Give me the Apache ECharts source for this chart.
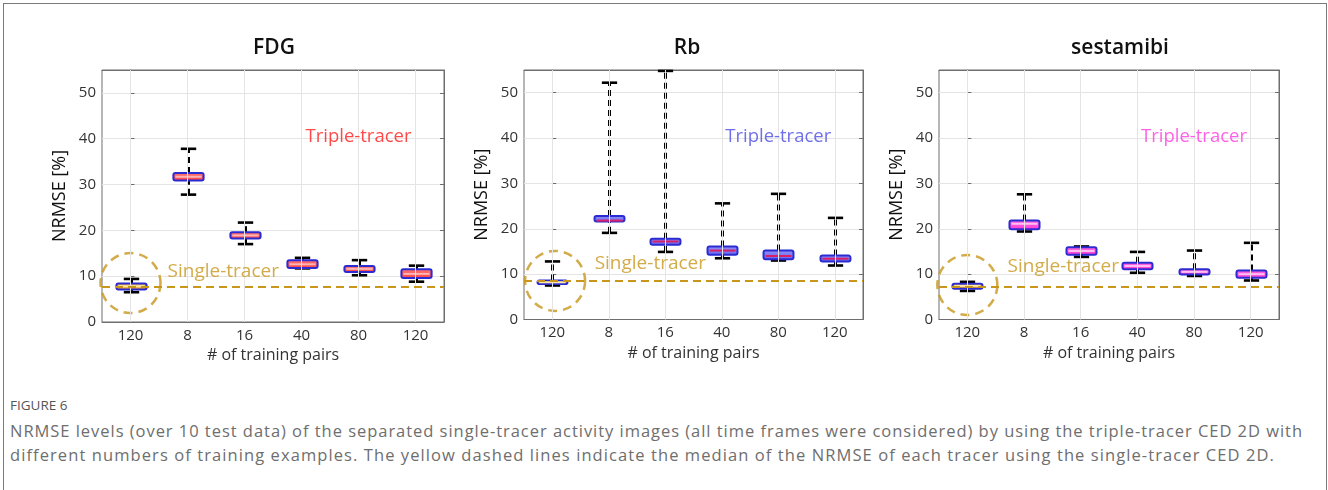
<!DOCTYPE html>
<html><head><meta charset="utf-8">
<script src="https://cdn.jsdelivr.net/npm/echarts@6/dist/echarts.min.js"></script>
<style>
html,body{margin:0;padding:0;background:#fff;width:1328px;height:490px;overflow:hidden;}
#frame{position:absolute;left:3px;top:3px;width:1324px;height:540px;border:1px solid #7a7a7a;border-bottom:none;box-sizing:border-box;}
#chart{position:absolute;left:0;top:0;width:1328px;height:385px;}
.cap{position:absolute;left:10px;font-family:'Open Sans';color:#6e6e6e;white-space:nowrap;line-height:20px;}
</style></head><body>
<div id="frame"></div>
<div id="chart"></div>
<div class="cap" id="fig" style="top:395px;font-size:13.5px;color:#555;">FIGURE 6</div>
<div class="cap" id="l1" style="top:421px;font-size:16.5px;">NRMSE levels (over 10 test data) of the separated single-tracer activity images (all time frames were considered) by using the triple-tracer CED 2D with</div>
<div class="cap" id="l2" style="top:445px;font-size:16.5px;">different numbers of training examples. The yellow dashed lines indicate the median of the NRMSE of each tracer using the single-tracer CED 2D.</div>
<script>
// ---------------- data ----------------
const categories = ['120', '8', '16', '40', '80', '120'];
const panelTitles = ['FDG', 'Rb', 'sestamibi'];
const yTickValues = [0, 10, 20, 30, 40, 50];
// each row: [min, Q1, median, Q3, max]; first row = single-tracer (120 pairs)
const fdgStats = [
  [6.5, 7.1, 7.8, 8.4, 9.4],
  [27.8, 30.9, 31.7, 32.5, 37.8],
  [17.0, 18.2, 18.9, 19.6, 21.7],
  [11.7, 11.8, 12.6, 13.5, 14.0],
  [10.2, 10.9, 11.6, 12.2, 13.5],
  [8.8, 9.6, 10.5, 11.5, 12.3]
];
const rbStats = [
  [7.5, 7.8, 8.2, 8.6, 12.8],
  [19.1, 21.6, 21.8, 22.8, 52.2],
  [14.9, 16.5, 17.2, 17.8, 54.8],
  [13.5, 14.3, 15.2, 16.1, 25.6],
  [13.0, 13.3, 14.0, 15.2, 27.7],
  [11.9, 12.8, 13.4, 14.1, 22.4]
];
const sestamibiStats = [
  [6.3, 6.8, 7.4, 7.9, 8.3],
  [19.4, 19.9, 21.1, 21.8, 27.6],
  [13.8, 14.3, 15.1, 15.9, 16.1],
  [10.3, 11.1, 11.8, 12.5, 14.9],
  [9.6, 9.9, 10.5, 11.1, 15.2],
  [8.6, 9.2, 10.0, 10.8, 16.9]
];
const singleTracerMedians = [7.7, 8.5, 7.3];
const tripleLabel = 'Triple-tracer';
const singleLabel = 'Single-tracer';

// ---------------- layout / style ----------------
const FONT = "'Open Sans', sans-serif";
const panels = [
  {stats: fdgStats, grid: {left: 102, top: 70, width: 342, height: 252}, titleX: 274,
   fill: ['#ff7a7a', '#ff3f3f'], med: '#ffb4b4', txt: '#ff1a1a',
   triplePos: [4, 40.4], singlePos: [0.65, 11.1], circle: [0, 8.5]},
  {stats: rbStats, grid: {left: 524, top: 70, width: 339, height: 249.5}, titleX: 687,
   fill: ['#9494f8', '#6565ef'], med: '#d8206a', txt: '#4b4be6',
   triplePos: [4, 40.3], singlePos: [0.75, 12.3], circle: [0.05, 8.5]},
  {stats: sestamibiStats, grid: {left: 939, top: 70, width: 340, height: 249.5}, titleX: 1120,
   fill: ['#ff72e4', '#ff36d4'], med: '#ffbdf1', txt: '#ff3ae0',
   triplePos: [4, 40.3], singlePos: [0.71, 11.6], circle: [0, 7.6]}
];
const GOLD = '#c8961a';
const singleFill = ['#f2bd55', '#e39a28'];
const singleMed = '#ffe9a0';

function makeRender(p) {
  return function (params, api) {
    const i = api.value(0);
    const x = Math.round(api.coord([i, api.value(1)])[0]) + 0.5;
    const yMin = api.coord([i, api.value(1)])[1];
    const yQ1 = api.coord([i, api.value(2)])[1];
    const yMed = api.coord([i, api.value(3)])[1];
    const yQ3 = api.coord([i, api.value(4)])[1];
    const yMax = api.coord([i, api.value(5)])[1];
    const band = api.size([1, 0])[0];
    const bw = band * 0.53, cw = band * 0.27;
    const f = i === 0 ? singleFill : p.fill;
    const m = i === 0 ? singleMed : p.med;
    const wh = {stroke: '#000', lineWidth: 3, lineDash: [6, 4]};
    const cap = {stroke: '#000', lineWidth: 2.6};
    return {type: 'group', children: [
      {type: 'line', shape: {x1: x, y1: yQ3, x2: x, y2: yMax}, style: wh},
      {type: 'line', shape: {x1: x, y1: yMin, x2: x, y2: yQ1}, style: wh},
      {type: 'line', shape: {x1: x - cw / 2, y1: yMax, x2: x + cw / 2, y2: yMax}, style: cap},
      {type: 'line', shape: {x1: x - cw / 2, y1: yMin, x2: x + cw / 2, y2: yMin}, style: cap},
      {type: 'rect', shape: {x: x - bw / 2, y: yQ3, width: bw, height: Math.max(yQ1 - yQ3, 2), r: 2},
       style: {fill: new echarts.graphic.LinearGradient(0, 0, 0, 1, [{offset: 0, color: f[0]}, {offset: 1, color: f[1]}]),
               stroke: '#2b2bd2', lineWidth: 2}},
      {type: 'line', shape: {x1: x - bw / 2 + 2, y1: yMed, x2: x + bw / 2 - 2, y2: yMed}, style: {stroke: m, lineWidth: 2}}
    ]};
  };
}

const grids = [], xAxes = [], yAxes = [], series = [], graphics = [];
panels.forEach((p, g) => {
  grids.push(Object.assign({containLabel: false, show: true, borderColor: '#6e6e6e', borderWidth: 1, backgroundColor: 'transparent'}, p.grid));
  const xb = xAxes.length;
  xAxes.push({type: 'category', gridIndex: g, data: categories, position: 'bottom',
    axisLine: {lineStyle: {color: '#6e6e6e', width: 1}},
    axisTick: {show: true, inside: true, alignWithLabel: true, length: 4, lineStyle: {color: '#6e6e6e'}},
    axisLabel: {color: '#333', fontFamily: FONT, fontSize: 15, margin: 6},
    splitLine: {show: false},
    name: '# of training pairs', nameLocation: 'middle', nameGap: 25,
    nameTextStyle: {color: '#333', fontFamily: FONT, fontSize: 16}});
  xAxes.push({type: 'value', gridIndex: g, min: -0.5, max: 5.5, show: false});
  xAxes.push({type: 'category', gridIndex: g, data: categories, position: 'top',
    axisLine: {lineStyle: {color: '#6e6e6e', width: 1}},
    axisTick: {show: true, inside: true, alignWithLabel: true, length: 4, lineStyle: {color: '#6e6e6e'}},
    axisLabel: {show: false}, splitLine: {show: false}});
  const yb = yAxes.length;
  yAxes.push({type: 'value', gridIndex: g, min: 0, max: 55, interval: 10, position: 'left',
    axisLine: {show: true, lineStyle: {color: '#6e6e6e', width: 1}},
    axisTick: {show: true, inside: true, length: 4, lineStyle: {color: '#6e6e6e'}},
    axisLabel: {color: '#333', fontFamily: FONT, fontSize: 15, margin: 6,
      formatter: v => (yTickValues.indexOf(v) >= 0 ? String(v) : '')},
    splitLine: {show: true, lineStyle: {color: '#e4e4e4', width: 1}},
    name: 'NRMSE [%]', nameLocation: 'middle', nameGap: 33, nameRotate: 90,
    nameTextStyle: {color: '#111', fontFamily: FONT, fontSize: 18}});
  yAxes.push({type: 'value', gridIndex: g, min: 0, max: 55, interval: 10, position: 'right',
    axisLine: {show: true, lineStyle: {color: '#6e6e6e', width: 1}},
    axisTick: {show: true, inside: true, length: 4, lineStyle: {color: '#6e6e6e'}},
    axisLabel: {show: false}, splitLine: {show: false}});

  series.push({type: 'line', xAxisIndex: xb, yAxisIndex: yb, data: [], z: 1, silent: true,
    markLine: {silent: true, symbol: ['none', 'none'], label: {show: false}, animation: false,
      lineStyle: {color: '#e4e4e4', width: 1, type: 'solid'},
      data: categories.map((c, i) => ({xAxis: i}))}});
  series.push({type: 'line', xAxisIndex: xb, yAxisIndex: yb, data: [], z: 2, silent: true,
    markLine: {silent: true, symbol: ['none', 'none'], label: {show: false}, animation: false,
      lineStyle: {color: GOLD, width: 2, type: [8, 5]},
      data: [{yAxis: singleTracerMedians[g]}]}});
  series.push({type: 'custom', xAxisIndex: xb, yAxisIndex: yb, z: 3, clip: false,
    renderItem: makeRender(p),
    encode: {x: 0, y: [1, 2, 3, 4, 5]},
    data: p.stats.map((s, i) => [i].concat(s))});
  series.push({type: 'scatter', xAxisIndex: xb + 1, yAxisIndex: yb, z: 4, silent: true, clip: false,
    symbol: 'circle', symbolSize: 60,
    itemStyle: {color: 'rgba(0,0,0,0)', borderColor: GOLD, borderWidth: 2.5, borderType: [9, 6]},
    data: [p.circle]});
  series.push({type: 'scatter', xAxisIndex: xb + 1, yAxisIndex: yb, z: 5, silent: true, symbolSize: 0,
    label: {show: true, position: 'inside', formatter: tripleLabel, color: p.txt, fontFamily: FONT, fontSize: 18.5},
    data: [p.triplePos]});
  series.push({type: 'scatter', xAxisIndex: xb + 1, yAxisIndex: yb, z: 5, silent: true, symbolSize: 0,
    label: {show: true, position: 'right', distance: 0, formatter: singleLabel, color: GOLD, fontFamily: FONT, fontSize: 19},
    data: [p.singlePos]});

  graphics.push({type: 'text', x: p.titleX, y: 48, style: {text: panelTitles[g], textAlign: 'center', textVerticalAlign: 'middle',
    font: "600 21px 'Open Sans'", fill: '#111'}});
});

const chart = echarts.init(document.getElementById('chart'), null, {renderer: 'canvas'});
chart.setOption({
  animation: false,
  grid: grids, xAxis: xAxes, yAxis: yAxes, series: series, graphic: graphics
});

// stretch caption lines to the reference line lengths
function fitLine(id, target) {
  const el = document.getElementById(id);
  const w = el.getBoundingClientRect().width;
  const n = el.textContent.length;
  el.style.letterSpacing = ((target - w) / n) + 'px';
}
fitLine('l1', 1293);
fitLine('l2', 1265);
</script>
</body></html>
